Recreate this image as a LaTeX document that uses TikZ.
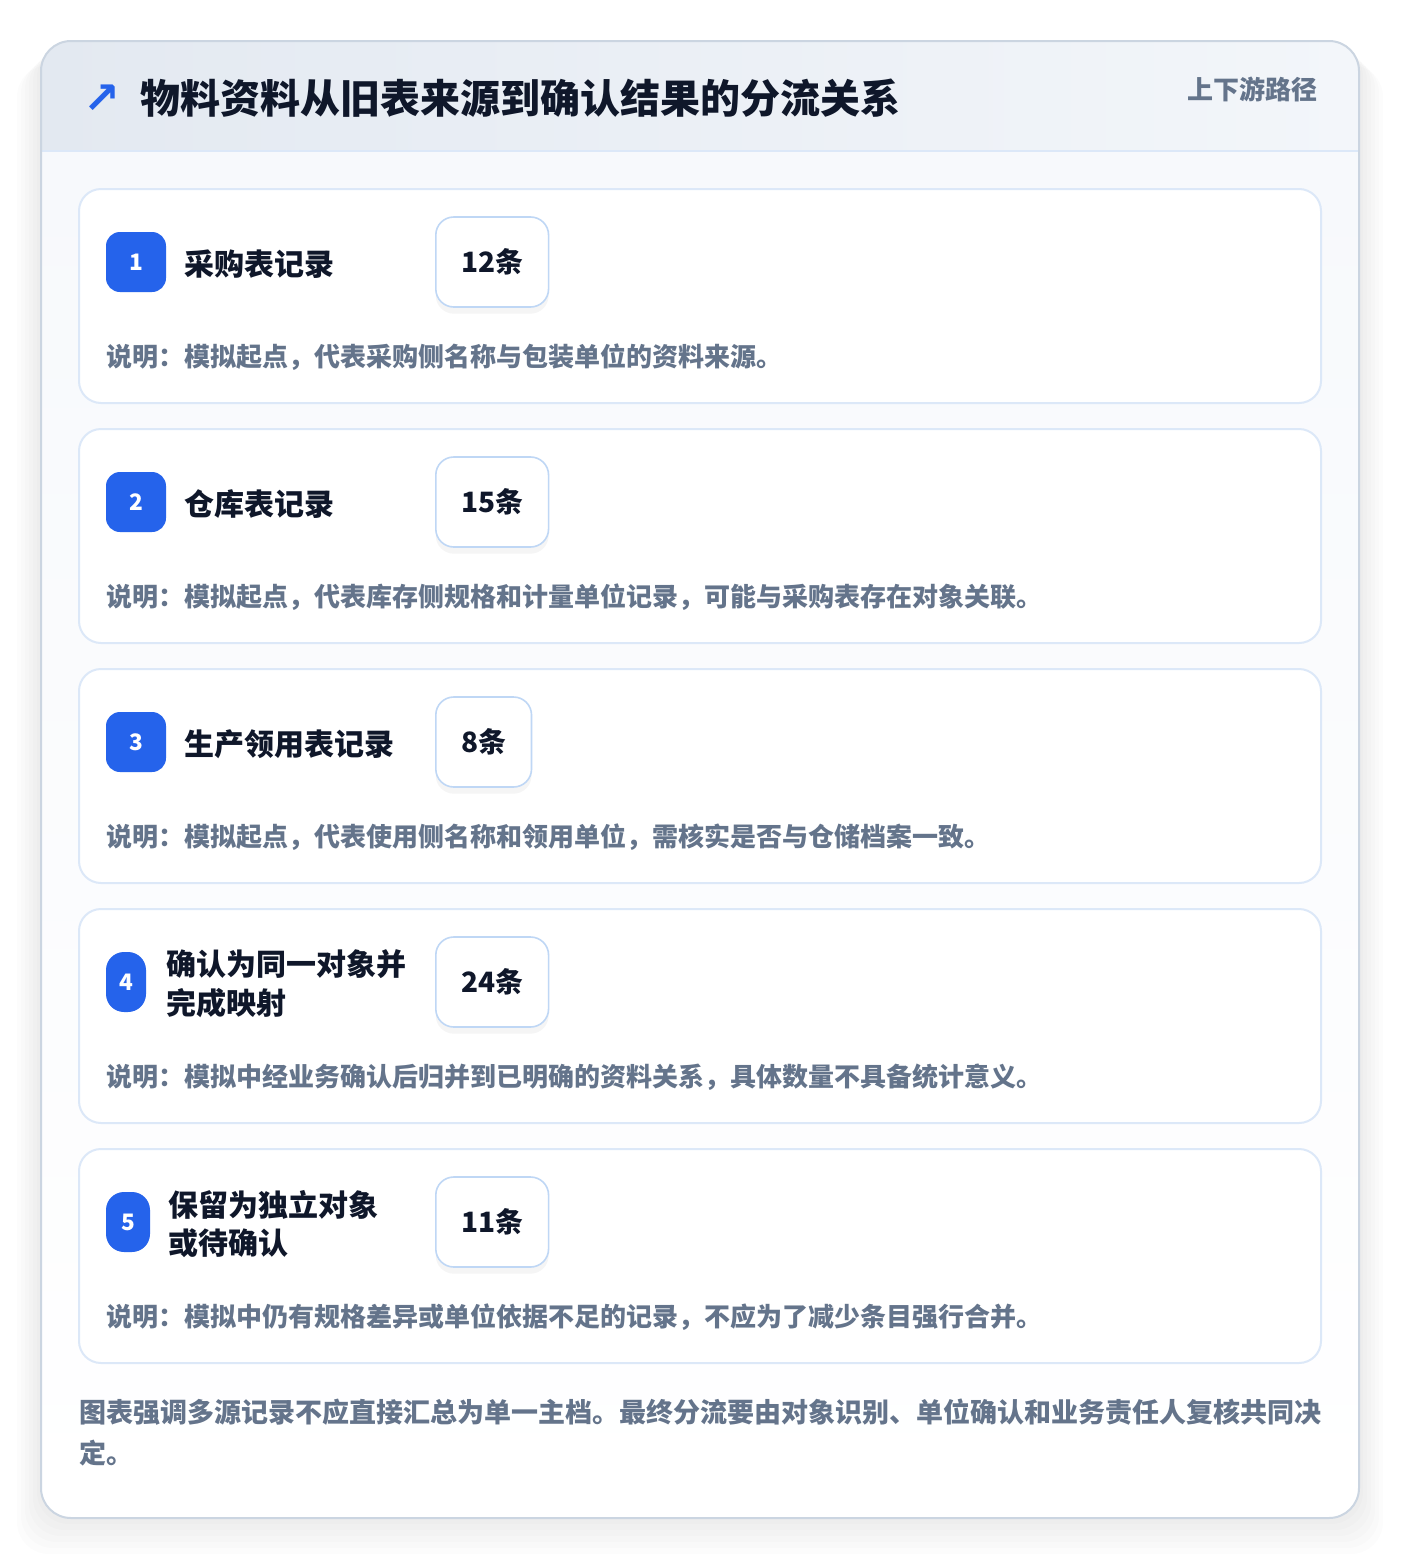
\documentclass[tikz,border=0pt]{standalone}
\usepackage{fontspec}
\setmainfont{Noto Sans CJK SC}
\newfontfamily\symfont{DejaVu Sans}
\usepackage{xcolor}
\usetikzlibrary{positioning}
\usetikzlibrary{shadows}

\definecolor{brandblue}{HTML}{2563EB}
\definecolor{inkdark}{HTML}{0F172A}
\definecolor{inkgray}{HTML}{64748B}
\definecolor{cardline}{HTML}{DCE8F8}
\definecolor{boxline}{HTML}{BFD7F5}
\definecolor{frameline}{HTML}{CBD5E1}
\definecolor{headleft}{HTML}{E3E9F1}
\definecolor{headright}{HTML}{F3F6FA}
\definecolor{bodyfill}{HTML}{F7F9FC}

\tikzset{
  card/.style={draw=cardline, line width=1.5pt, fill=white, rounded corners=16.5pt,
    minimum width=931.5pt, minimum height=160.5pt},
  badge/.style={fill=brandblue, text=white, rounded corners=10.5pt, inner sep=0pt,
    minimum width=45pt, minimum height=45pt, font=\bfseries\fontsize{17pt}{18pt}\selectfont},
  label/.style={anchor=west, text=inkdark, inner sep=0pt, align=left,
    font=\bfseries\fontsize{22.5pt}{29pt}\selectfont},
  countbox/.style={anchor=west, draw=boxline, line width=1.2pt, fill=white, rounded corners=13.5pt,
    inner xsep=19pt, minimum height=67.5pt, text=inkdark,
    drop shadow={shadow xshift=0pt, shadow yshift=-5pt, opacity=0.04, fill=black},
    font=\bfseries\fontsize{21pt}{24pt}\selectfont},
  desc/.style={anchor=west, text=inkgray, inner sep=0pt,
    font=\bfseries\fontsize{19.5pt}{22pt}\selectfont}
}

\begin{document}
\begin{tikzpicture}[x=0.75pt,y=-0.75pt]
  \useasboundingbox (0,0) rectangle (1400,1560);
  \fill[white] (0,0) rectangle (1400,1560);

  % soft shadow under the frame
  \foreach \s in {4,8,12,16,20,24}
    \fill[black, opacity=0.012, rounded corners=24pt]
      (41-\s,41+\s) rectangle (1359+\s,1518+1.5*\s);

  % frame and header
  \begin{scope}
    \clip[rounded corners=22.5pt] (41,41) rectangle (1359,1518);
    \shade[top color=bodyfill, bottom color=white] (41,151) rectangle (1359,1518);
    \shade[left color=headleft, right color=headright] (41,41) rectangle (1359,151);
    \draw[cardline, line width=1.5pt] (41,151) -- (1359,151);
  \end{scope}
  \draw[frameline, line width=1.5pt, rounded corners=22.5pt] (41,41) rectangle (1359,1518);

  \node[text=brandblue, inner sep=0pt, font=\symfont\bfseries\fontsize{33pt}{36pt}\selectfont] (icon) at (102,99) {↗};
  \node[anchor=west, inner sep=0pt, text=inkdark, font=\bfseries\fontsize{30pt}{36pt}\selectfont] (title) at (140,98) {物料资料从旧表来源到确认结果的分流关系};
  \node[anchor=east, inner sep=0pt, text=inkgray, font=\bfseries\fontsize{19.5pt}{22pt}\selectfont] (tag) at (1318,89) {上下游路径};

  % card 1
  \node[card] (card1) at (700,296) {};
  \node[badge] (badge1) at (136,262) {1};
  \node[label] (label1) at (184,264) {采购表记录};
  \node[countbox] (count1) at (435,262) {12条};
  \node[desc] (desc1) at (106,357) {说明：模拟起点，代表采购侧名称与包装单位的资料来源。};

  % card 2
  \node[card] (card2) at (700,536) {};
  \node[badge] (badge2) at (136,502) {2};
  \node[label] (label2) at (184,504) {仓库表记录};
  \node[countbox] (count2) at (435,502) {15条};
  \node[desc] (desc2) at (106,597) {说明：模拟起点，代表库存侧规格和计量单位记录，可能与采购表存在对象关联。};

  % card 3
  \node[card] (card3) at (700,776) {};
  \node[badge] (badge3) at (136,742) {3};
  \node[label] (label3) at (184,744) {生产领用表记录};
  \node[countbox] (count3) at (435,742) {8条};
  \node[desc] (desc3) at (106,837) {说明：模拟起点，代表使用侧名称和领用单位，需核实是否与仓储档案一致。};

  % card 4
  \node[card] (card4) at (700,1016) {};
  \node[badge, minimum width=30pt, rounded corners=13.5pt] (badge4) at (126,982) {4};
  \node[label] (label4) at (166,984) {确认为同一对象并\\完成映射};
  \node[countbox] (count4) at (435,982) {24条};
  \node[desc] (desc4) at (106,1077) {说明：模拟中经业务确认后归并到已明确的资料关系，具体数量不具备统计意义。};

  % card 5
  \node[card] (card5) at (700,1256) {};
  \node[badge, minimum width=33pt, rounded corners=13.5pt] (badge5) at (128,1222) {5};
  \node[label] (label5) at (168,1224) {保留为独立对象\\或待确认};
  \node[countbox] (count5) at (435,1222) {11条};
  \node[desc] (desc5) at (106,1317) {说明：模拟中仍有规格差异或单位依据不足的记录，不应为了减少条目强行合并。};

  % closing note
  \node[anchor=north west, inner sep=0pt, text=inkgray, align=left,
    font=\bfseries\fontsize{20.25pt}{30.75pt}\selectfont] (note) at (79,1399)
    {图表强调多源记录不应直接汇总为单一主档。最终分流要由对象识别、单位确认和业务责任人复核共同决\\定。};
\end{tikzpicture}
\end{document}
